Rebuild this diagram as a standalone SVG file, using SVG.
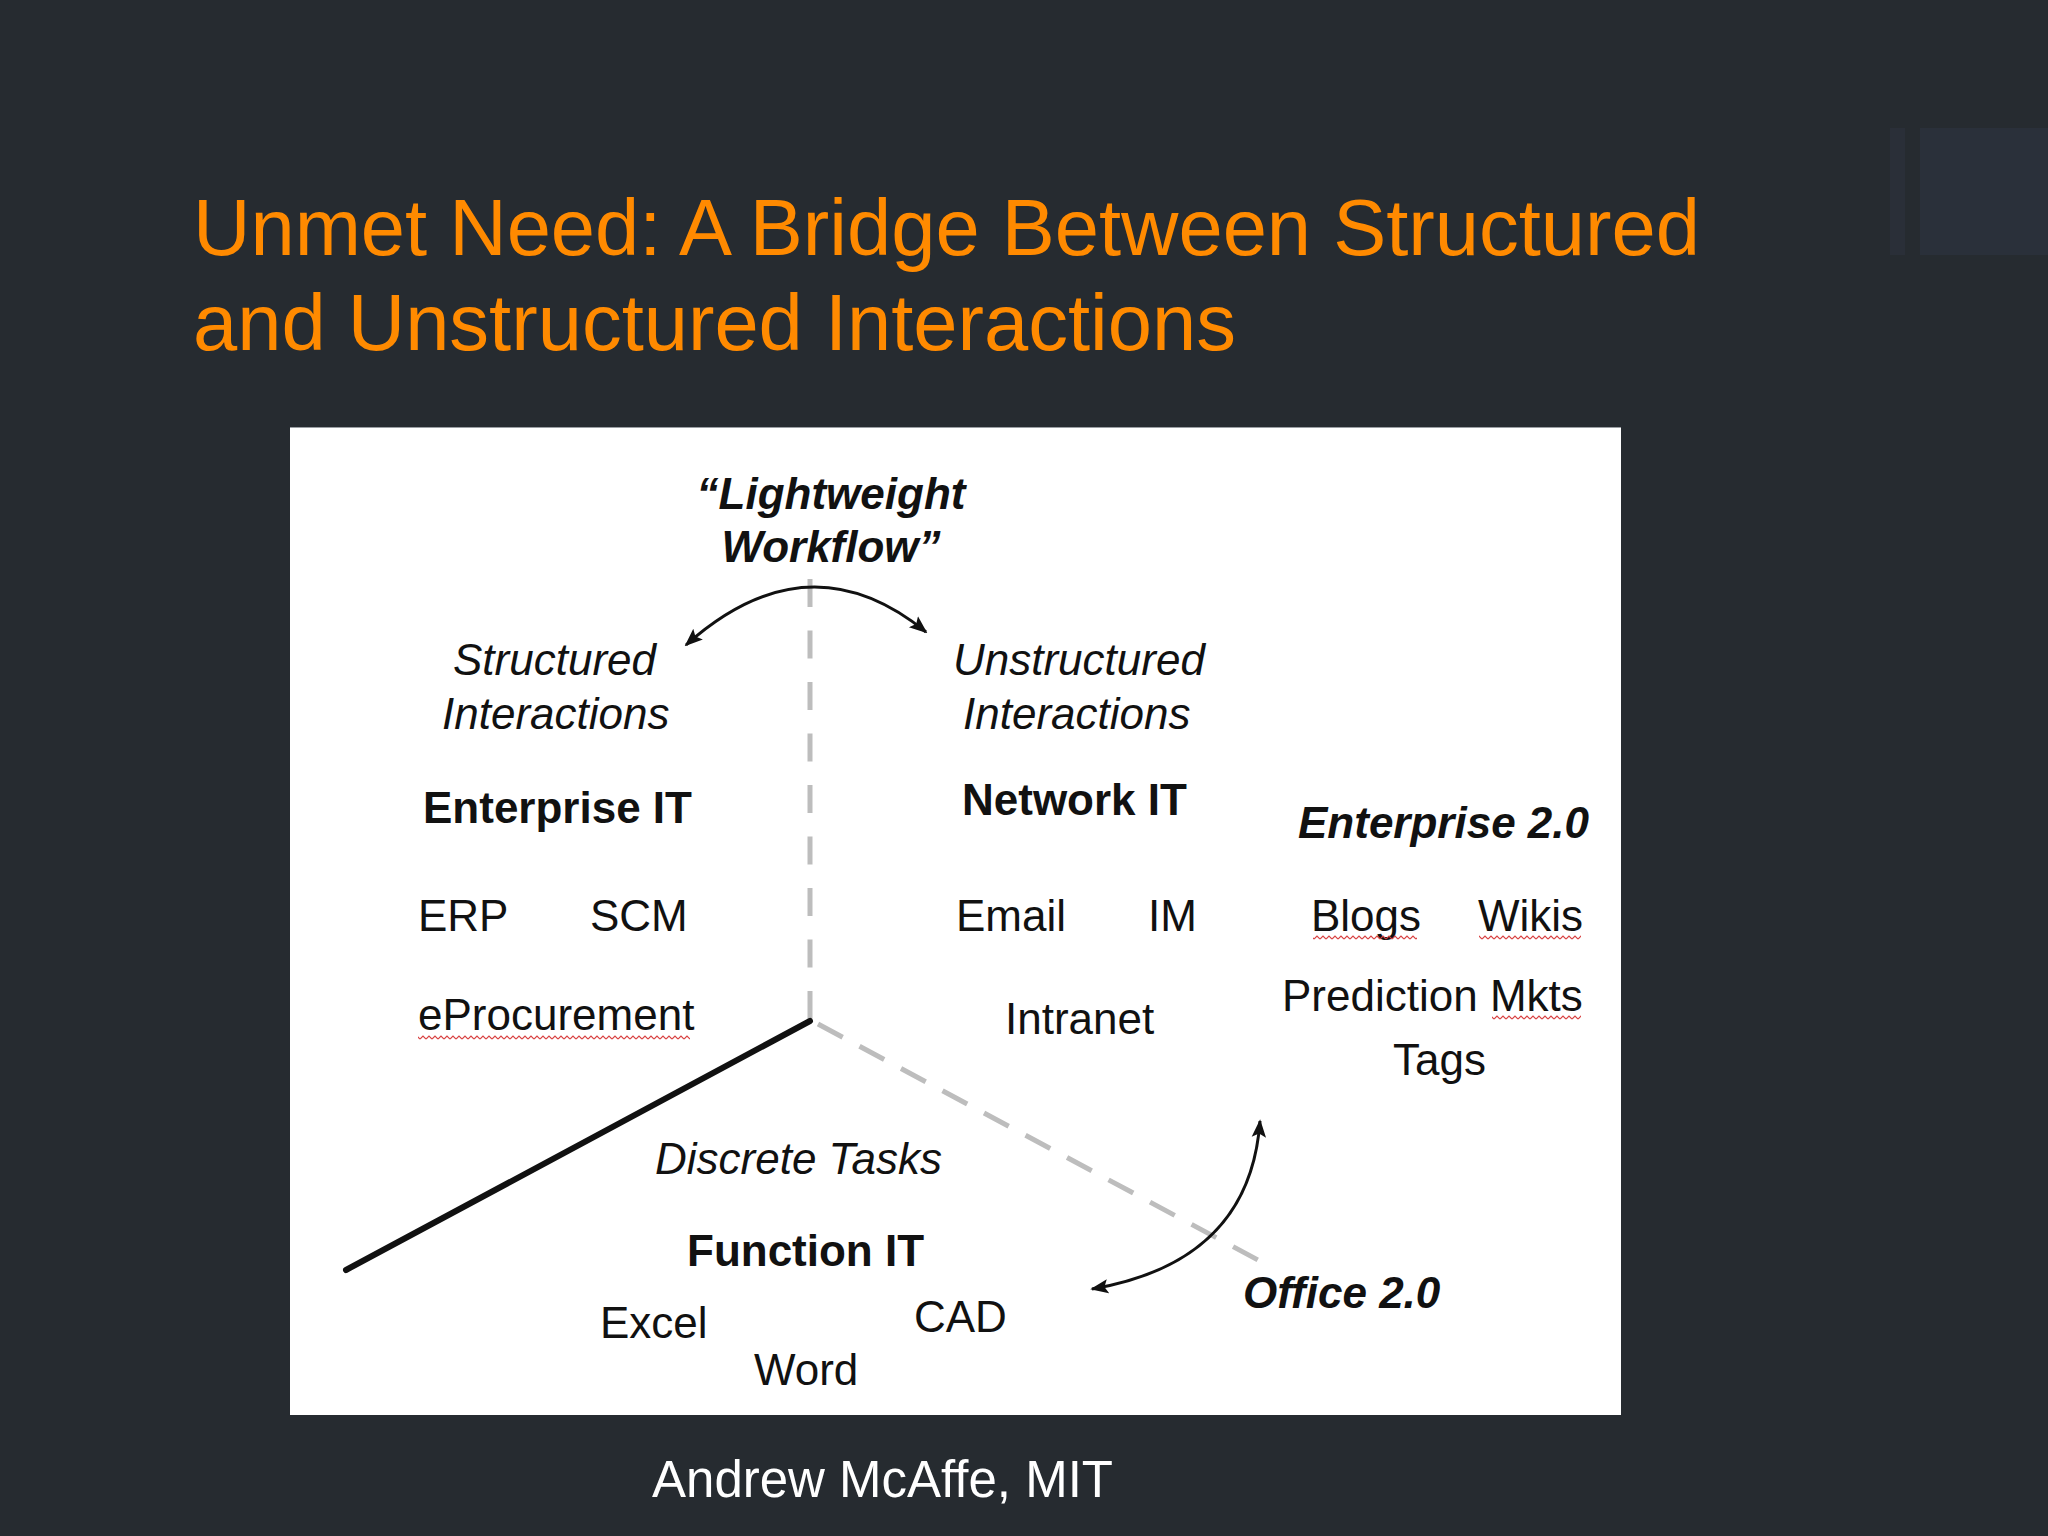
<svg xmlns="http://www.w3.org/2000/svg" width="2048" height="1536" viewBox="0 0 2048 1536">
<style>
.t{font-family:"Liberation Sans",Arial,sans-serif;font-size:44px;fill:#111}
.b{font-weight:bold}
.i{font-style:italic}
.title{font-family:"Liberation Sans",Arial,sans-serif;font-size:79.5px;fill:#FF8A00}
.foot{font-family:"Liberation Sans",Arial,sans-serif;font-size:51px;fill:#fff}
.dash{stroke:#bdbdbd;stroke-width:5;fill:none}
.arc{stroke:#111;stroke-width:3;fill:none;marker-start:url(#ah);marker-end:url(#ah)}
</style>
<defs>
<marker id="ah" viewBox="0 0 10 10" refX="9" refY="5" markerWidth="6" markerHeight="6" markerUnits="strokeWidth" orient="auto-start-reverse">
<path d="M0,1 L10,5 L0,9 L2,5 Z" fill="#111"/>
</marker>
<pattern id="sq" x="0" y="0" width="6" height="5" patternUnits="userSpaceOnUse">
<path d="M0,4 L3,1 L6,4" stroke="#d84040" stroke-width="1.2" fill="none"/>
</pattern>
</defs>
<rect width="2048" height="1536" fill="#262b30"/>
<rect x="1890" y="128" width="15" height="127" fill="#2a2f38"/>
<rect x="1920" y="128" width="128" height="127" fill="#2a303a"/>
<text class="title" x="193" y="255">Unmet Need: A Bridge Between Structured</text>
<text class="title" x="193" y="350">and Unstructured Interactions</text>
<rect x="290" y="427" width="1331" height="988" fill="#ffffff"/>
<line x1="290" y1="427.5" x2="1621" y2="427.5" stroke="#9a9ea3" stroke-width="1"/>
<g id="connectors">
<line class="dash" x1="810" y1="1019" x2="810" y2="579" stroke-dasharray="28 23.5"/>
<line class="dash" x1="818" y1="1024" x2="1258" y2="1260" stroke-dasharray="28 19.1"/>
<line x1="810" y1="1021" x2="346" y2="1270" stroke="#111" stroke-width="6" stroke-linecap="round"/>
<path class="arc" d="M686,645 Q808,536 926,632"/>
<path class="arc" d="M1260,1121 Q1250,1262 1092,1289"/>
</g>
<g id="lightweight"><text class="t b i" x="831" y="509" text-anchor="middle">“Lightweight</text><text class="t b i" x="831" y="562" text-anchor="middle">Workflow”</text></g>
<g id="structured"><text class="t i" x="453" y="675">Structured</text><text class="t i" x="442" y="729">Interactions</text></g>
<g id="unstructured"><text class="t i" x="953" y="675">Unstructured</text><text class="t i" x="963" y="729">Interactions</text></g>
<g id="enterprise-it"><text class="t b" x="423" y="823">Enterprise IT</text></g>
<g id="network-it"><text class="t b" x="962" y="815">Network IT</text></g>
<g id="enterprise-20"><text class="t b i" x="1298" y="838">Enterprise 2.0</text></g>
<g id="erp"><text class="t" x="418" y="931">ERP</text></g>
<g id="scm"><text class="t" x="590" y="931">SCM</text></g>
<g id="email"><text class="t" x="956" y="931">Email</text></g>
<g id="im"><text class="t" x="1148" y="931">IM</text></g>
<g id="blogs"><text class="t" x="1311" y="931">Blogs</text><rect x="1313" y="935" width="104" height="5" fill="url(#sq)"/></g>
<g id="wikis"><text class="t" x="1478" y="931">Wikis</text><rect x="1479" y="935" width="102" height="5" fill="url(#sq)"/></g>
<g id="eprocurement"><text class="t" x="418" y="1030">eProcurement</text><rect x="418" y="1035" width="272" height="5" fill="url(#sq)"/></g>
<g id="intranet"><text class="t" x="1005" y="1034">Intranet</text></g>
<g id="prediction"><text class="t" x="1282" y="1011">Prediction Mkts</text><rect x="1492" y="1015" width="89" height="5" fill="url(#sq)"/></g>
<g id="tags"><text class="t" x="1393" y="1075">Tags</text></g>
<g id="discrete"><text class="t i" x="655" y="1174">Discrete Tasks</text></g>
<g id="function-it"><text class="t b" x="687" y="1266">Function IT</text></g>
<g id="excel"><text class="t" x="600" y="1338">Excel</text></g>
<g id="cad"><text class="t" x="914" y="1332">CAD</text></g>
<g id="word"><text class="t" x="754" y="1385">Word</text></g>
<g id="office-20"><text class="t b i" x="1243" y="1308">Office 2.0</text></g>
<text class="foot" x="652" y="1497">Andrew McAffe, MIT</text>
</svg>
